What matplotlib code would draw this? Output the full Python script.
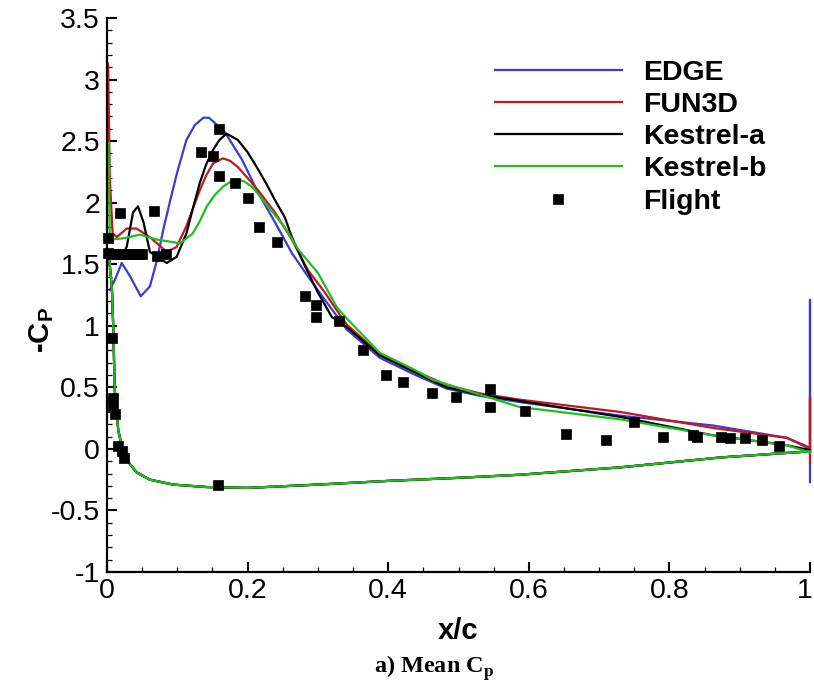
import matplotlib
matplotlib.use("Agg")
import matplotlib.pyplot as plt
import matplotlib.transforms as mtransforms
from matplotlib.ticker import MultipleLocator

plt.rcParams['font.family'] = ['Liberation Sans', 'DejaVu Sans']
plt.rcParams['mathtext.fontset'] = 'custom'
plt.rcParams['mathtext.rm'] = 'Liberation Serif:bold'
plt.rcParams['mathtext.sf'] = 'Liberation Sans:bold'

# ---------------- data ----------------
lower_x = [1.0, 0.872, 0.73, 0.587, 0.5, 0.4, 0.3, 0.2, 0.142, 0.094, 0.061, 0.042,
           0.028, 0.022, 0.016, 0.011, 0.009, 0.007, 0.003]
lower_cp = [-0.02, -0.07, -0.15, -0.21, -0.235, -0.26, -0.29, -0.317, -0.31, -0.29, -0.25, -0.19,
            -0.09, 0.0, 0.15, 0.48, 0.97, 1.30, 1.55]

edge_x = [0.004, 0.011, 0.021, 0.033, 0.048, 0.061, 0.071, 0.080, 0.090, 0.100, 0.113, 0.125,
          0.137, 0.145, 0.151, 0.168, 0.192, 0.215, 0.239, 0.263, 0.286, 0.310, 0.341, 0.388,
          0.435, 0.483, 0.531, 0.587, 0.73, 0.862, 0.967, 1.0, 1.0, 1.0]
edge_cp = [1.29, 1.37, 1.51, 1.40, 1.24, 1.32, 1.53, 1.78, 2.02, 2.25, 2.51, 2.63,
           2.69, 2.69, 2.66, 2.57, 2.35, 2.08, 1.84, 1.59, 1.40, 1.21, 0.97, 0.74,
           0.61, 0.49, 0.43, 0.38, 0.27, 0.19, 0.09, 0.0, 1.21, -0.27]

fun3d_x = [0.0015, 0.004, 0.008, 0.014, 0.028, 0.042, 0.061, 0.085, 0.099, 0.113, 0.122, 0.132,
           0.141, 0.151, 0.165, 0.175, 0.186, 0.200, 0.215, 0.227, 0.239, 0.263, 0.286, 0.310,
           0.324, 0.341, 0.388, 0.435, 0.483, 0.531, 0.587, 0.73, 0.862, 0.967, 1.0, 1.0, 1.0]
fun3d_cp = [3.13, 2.2, 1.75, 1.72, 1.79, 1.79, 1.72, 1.60, 1.64, 1.81, 1.95, 2.10,
            2.22, 2.32, 2.36, 2.34, 2.29, 2.20, 2.10, 2.01, 1.92, 1.70, 1.45, 1.27,
            1.15, 1.01, 0.77, 0.64, 0.52, 0.45, 0.40, 0.30, 0.17, 0.09, 0.01, 0.42, -0.11]

kestrel_a_x = [0.003, 0.02, 0.028, 0.037, 0.044, 0.052, 0.061, 0.085, 0.099, 0.113, 0.122, 0.132,
               0.141, 0.151, 0.160, 0.170, 0.186, 0.200, 0.215, 0.227, 0.239, 0.253, 0.263, 0.282,
               0.300, 0.320, 0.341, 0.388, 0.435, 0.483, 0.531, 0.587, 0.73, 0.862, 0.967, 1.0]
kestrel_a_cp = [1.56, 1.56, 1.64, 1.92, 1.97, 1.84, 1.60, 1.51, 1.56, 1.75, 1.95, 2.16,
                2.31, 2.43, 2.51, 2.56, 2.51, 2.41, 2.27, 2.15, 2.02, 1.88, 1.72, 1.48,
                1.27, 1.07, 0.99, 0.76, 0.63, 0.50, 0.44, 0.39, 0.26, 0.11, 0.03, -0.01]

kestrel_b_x = [0.002, 0.004, 0.023, 0.047, 0.071, 0.104, 0.122, 0.132, 0.142, 0.153, 0.165, 0.176,
               0.186, 0.196, 0.206, 0.218, 0.229, 0.253, 0.272, 0.300, 0.327, 0.341, 0.388, 0.435,
               0.464, 0.531, 0.587, 0.73, 0.862, 0.967, 1.0]
kestrel_b_cp = [2.49, 1.70, 1.71, 1.74, 1.70, 1.67, 1.75, 1.85, 1.97, 2.06, 2.13, 2.17,
                2.19, 2.17, 2.13, 2.05, 1.97, 1.80, 1.62, 1.43, 1.15, 1.06, 0.78, 0.65,
                0.56, 0.44, 0.34, 0.24, 0.11, 0.03, -0.03]

flight_x = [0.002, 0.008, 0.014, 0.020, 0.026, 0.032, 0.038, 0.044, 0.050, 0.071, 0.084,
            0.002, 0.018, 0.067,
            0.159, 0.134, 0.151, 0.159, 0.182, 0.200, 0.216, 0.242, 0.282, 0.298, 0.298,
            0.330, 0.364, 0.397, 0.421, 0.462, 0.496, 0.545, 0.545, 0.595, 0.653, 0.710,
            0.750, 0.791, 0.834, 0.839, 0.873, 0.886, 0.907, 0.932, 0.956,
            0.007, 0.009, 0.008, 0.011, 0.016, 0.021, 0.024, 0.158]
flight_cp = [1.59, 1.58, 1.58, 1.58, 1.58, 1.58, 1.58, 1.58, 1.58, 1.57, 1.58,
             1.71, 1.92, 1.93,
             2.60, 2.41, 2.38, 2.22, 2.16, 2.04, 1.80, 1.68, 1.24, 1.17, 1.07,
             1.04, 0.80, 0.60, 0.54, 0.45, 0.42, 0.49, 0.34, 0.31, 0.12, 0.07,
             0.22, 0.10, 0.11, 0.10, 0.10, 0.09, 0.09, 0.07, 0.02,
             0.90, 0.41, 0.34, 0.28, 0.02, -0.02, -0.07, -0.29]

labels = ['EDGE', 'FUN3D', 'Kestrel-a', 'Kestrel-b', 'Flight']
colors = ['#3b3bd4', '#c4161c', '#000000', '#1fbf1f']
xtick_labels = ['0', '0.2', '0.4', '0.6', '0.8', '1']
ytick_labels = ['-1', '-0.5', '0', '0.5', '1', '1.5', '2', '2.5', '3', '3.5']

# ---------------- figure ----------------
fig = plt.figure(figsize=(8.14, 6.88), dpi=100)
ax = fig.add_axes([107/814, 1 - 572/688, 703/814, 554/688])

series = [(edge_x, edge_cp), (fun3d_x, fun3d_cp), (kestrel_a_x, kestrel_a_cp), (kestrel_b_x, kestrel_b_cp)]
handles = []
for (sx, sy), c, lab in zip(series, colors, labels[:4]):
    ax.plot(lower_x, lower_cp, color=c, lw=1.6, clip_on=False)
    h, = ax.plot(sx, sy, color=c, lw=1.6, clip_on=False, label=lab)
    handles.append(h)
hf, = ax.plot(flight_x, flight_cp, ls='none', marker='s', ms=7, mfc='black', mec='black',
              mew=0.5, label=labels[4], clip_on=False, zorder=5)
handles.append(hf)

ax.set_xlim(0, 1)
ax.set_ylim(-1, 3.5)
ax.xaxis.set_minor_locator(MultipleLocator(0.05))
ax.yaxis.set_minor_locator(MultipleLocator(0.1))
ax.set_xticks([float(t) for t in xtick_labels])
ax.set_xticklabels(xtick_labels)
ax.set_yticks([float(t) for t in ytick_labels])
ax.set_yticklabels(ytick_labels)

for s in ['top', 'right']:
    ax.spines[s].set_visible(False)
for s in ['left', 'bottom']:
    ax.spines[s].set_linewidth(1.6)
ax.tick_params(which='major', direction='in', length=7.5, width=1.5, labelsize=20.5, pad=5)
ax.tick_params(which='minor', direction='in', length=3.8, width=0.9)
ax.tick_params(axis='x', pad=4)

# nudge the last x tick label so it stays inside the figure
last = ax.get_xticklabels()[-1]
last.set_transform(last.get_transform() + mtransforms.ScaledTranslation(-4/72, 0, fig.dpi_scale_trans))

ax.set_xlabel('x/c', fontsize=21, fontweight='bold')
ax.xaxis.set_label_coords(0.5, -0.081)
ax.set_ylabel('-C$_{\\mathsf{P}}$', fontsize=21, fontweight='bold')
ax.yaxis.set_label_coords(-0.072, 0.437)

fig.text(434/814, 1 - 668/688, 'a) Mean C$_{\\mathrm{p}}$', fontsize=17.5, fontweight='bold',
         family='Liberation Serif', ha='center', va='center')

leg = ax.legend(handles=handles, loc='upper left', bbox_to_anchor=(495/814, 1 - 59.5/688),
                bbox_transform=fig.transFigure, frameon=False, numpoints=1,
                prop={'size': 20.5, 'weight': 'bold'}, handlelength=4.46, handletextpad=0.75,
                labelspacing=0.22, borderpad=0, borderaxespad=0)

fig.savefig('out.png', dpi=100)
